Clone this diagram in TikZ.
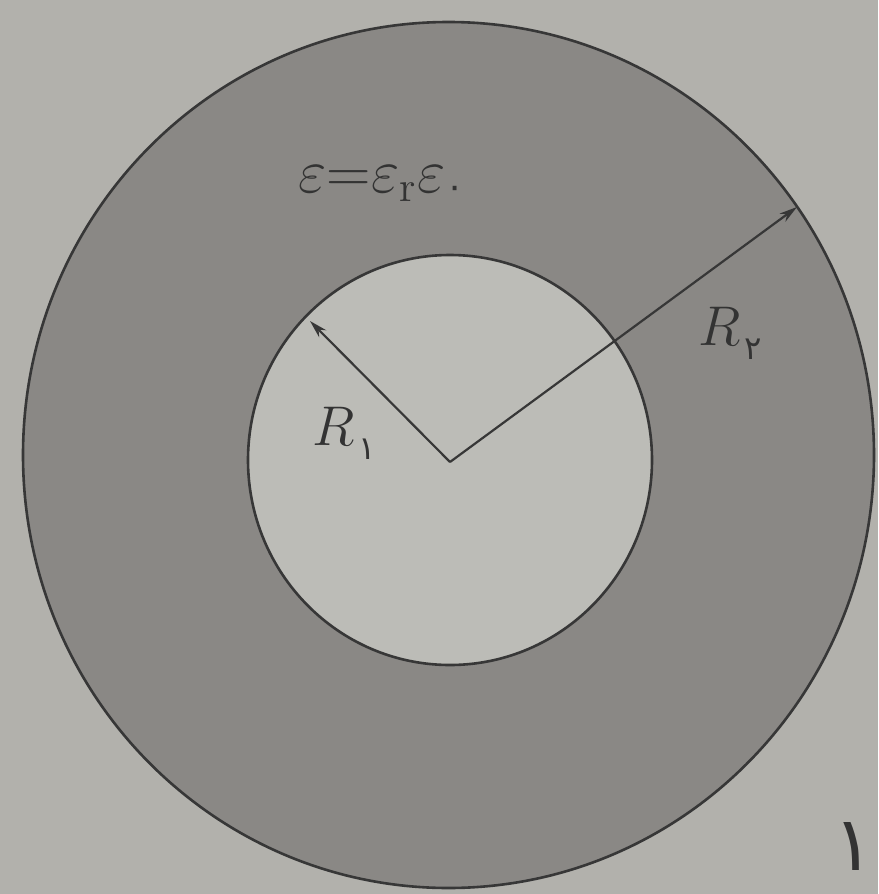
\documentclass[tikz,border=0pt]{standalone}
\usepackage{fontspec}
\usetikzlibrary{arrows.meta}
\newfontfamily\pfont[Script=Arabic]{DejaVu Sans}
\definecolor{bgc}{RGB}{178,177,172}
\definecolor{ringc}{RGB}{138,136,133}
\definecolor{innerc}{RGB}{188,188,183}
\definecolor{edgec}{RGB}{55,55,55}
\tikzset{
  rim/.style={draw=edgec, line width=2.6pt},
  radius line/.style={draw=edgec, line width=2.2pt, -{Stealth[length=18pt,width=10pt]}},
  lbl/.style={inner sep=0pt, text=black!80, font=\huge, scale=2.7},
}
\begin{document}
\begin{tikzpicture}[x=1pt,y=-1pt]
\useasboundingbox (0,0) rectangle (878,894);
\fill[bgc] (0,0) rectangle (878,894);
% outer disc (annulus)
\path[rim, fill=ringc] (448.5,455) ellipse [x radius=425.5, y radius=433];
% inner disc
\path[rim, fill=innerc] (450,460) ellipse [x radius=202, y radius=205];
\coordinate (O) at (450,462);
\coordinate (A1) at (310,321);
\coordinate (A2) at (797,207);
\draw[radius line] (O) -- (A1);
\draw[radius line] (O) -- (A2);
\node[lbl, anchor=base west] (r1) at (312,445) {$R$\hspace{1.5pt}\raisebox{-0.25em}{\fontsize{12}{12}\pfont ۱}};
\node[lbl, anchor=base west] (r2) at (698,345) {$R$\hspace{1.5pt}\raisebox{-0.25em}{\fontsize{12}{12}\pfont ۲}};
\node[lbl, anchor=base west, scale=1.1] (eps) at (298,192) {$\varepsilon{=}\varepsilon_{\mathrm{r}}\varepsilon$\raisebox{-0.1em}{\fontsize{12}{12}\pfont ۰}};
\node[lbl, anchor=base east, font=\fontsize{28}{28}\pfont] (fig) at (875,870) {۱};
\end{tikzpicture}
\end{document}
